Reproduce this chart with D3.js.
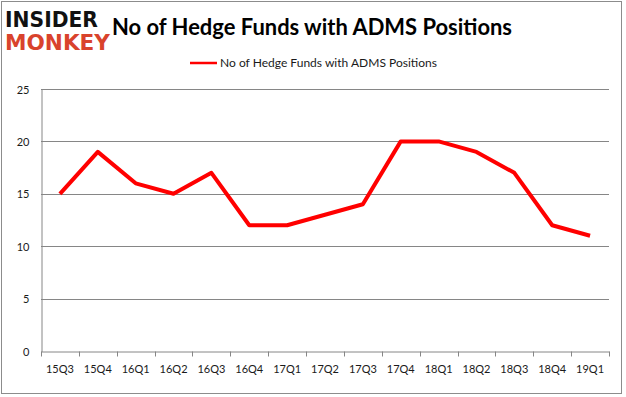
<!DOCTYPE html>
<meta charset="utf-8">
<style>
body { margin: 0; background: #fff; }
text { font-family: Lato, "Open Sans", sans-serif; }
.axis text { font-size: 11px; fill: #1a1a1a; }
</style>
<svg width="626" height="397"></svg>
<script src="https://d3js.org/d3.v7.min.js"></script>
<script>

var quarters = ["15Q3", "15Q4", "16Q1", "16Q2", "16Q3", "16Q4", "17Q1", "17Q2",
                "17Q3", "17Q4", "18Q1", "18Q2", "18Q3", "18Q4", "19Q1"];
var funds = [15, 19, 16, 15, 17, 12, 12, 13, 14, 20, 20, 19, 17, 12, 11];
var yTicks = [0, 5, 10, 15, 20, 25];
var seriesName = "No of Hedge Funds with ADMS Positions";

var svg = d3.select("svg");

// outer frame
svg.append("rect")
    .attr("x", 1.5).attr("y", 1.5)
    .attr("width", 620).attr("height", 392)
    .attr("fill", "#fff").attr("stroke", "#8c8c8c");

// plot area (note: "top" is taken by window.top)
var plotLeft = 41, plotRight = 609, plotTop = 89, plotBottom = 351;

var x = d3.scaleBand().domain(quarters).range([plotLeft, plotRight]);
var y = d3.scaleLinear().domain([0, 25]).range([plotBottom, plotTop]);

// gridlines
svg.append("g").selectAll("line")
    .data(yTicks.filter(function(d) { return d > 0; }))
  .enter().append("line")
    .attr("x1", plotLeft).attr("x2", plotRight)
    .attr("y1", function(d) { return Math.round(y(d)) + 0.5; })
    .attr("y2", function(d) { return Math.round(y(d)) + 0.5; })
    .attr("stroke", "#868686");

// y axis, labels only next to the line
var ya = svg.append("g").attr("class", "axis")
    .attr("transform", "translate(" + (plotLeft + 0.5) + ",0.5)")
    .call(d3.axisLeft(y).tickValues(yTicks).tickSize(0).tickSizeOuter(0).tickPadding(12));
ya.select(".domain").attr("stroke", "#868686");

// x axis
var xa = svg.append("g").attr("class", "axis")
    .attr("transform", "translate(0," + (plotBottom + 0.5) + ")")
    .call(d3.axisBottom(x).tickSize(0).tickPadding(14));
xa.select(".domain").attr("stroke", "#868686");
xa.selectAll(".tick line").remove();
xa.append("g").selectAll("line")
    .data(d3.range(quarters.length + 1))
  .enter().append("line")
    .attr("x1", function(i) { return Math.round(plotLeft + i * x.step()) + 0.5; })
    .attr("x2", function(i) { return Math.round(plotLeft + i * x.step()) + 0.5; })
    .attr("y1", 0).attr("y2", 5)
    .attr("stroke", "#868686");

// series line
var line = d3.line()
    .x(function(d, i) { return x(quarters[i]) + x.bandwidth() / 2; })
    .y(function(d) { return y(d); });

svg.append("path")
    .datum(funds)
    .attr("d", line)
    .attr("fill", "none")
    .attr("stroke", "#ff0000")
    .attr("stroke-width", 4)
    .attr("stroke-linejoin", "round");

// title
svg.append("text")
    .attr("x", 112).attr("y", 35)
    .attr("textLength", 400)
    .attr("lengthAdjust", "spacingAndGlyphs")
    .style("font-size", "22px").style("font-weight", "bold")
    .text(seriesName);

// legend
svg.append("line")
    .attr("x1", 190).attr("x2", 217).attr("y1", 63).attr("y2", 63)
    .attr("stroke", "#ff0000").attr("stroke-width", 2.5);
svg.append("text")
    .attr("x", 220).attr("y", 67)
    .attr("textLength", 217)
    .attr("lengthAdjust", "spacingAndGlyphs")
    .style("font-size", "11.5px").style("fill", "#1a1a1a")
    .text(seriesName);

// logo
svg.append("text")
    .attr("x", 5).attr("y", 27)
    .attr("textLength", 93)
    .attr("lengthAdjust", "spacingAndGlyphs")
    .style("font-family", "'DejaVu Sans', sans-serif")
    .style("font-size", "21px").style("font-weight", "900")
    .style("fill", "#111")
    .text("INSIDER");
svg.append("text")
    .attr("x", 5).attr("y", 50)
    .attr("textLength", 105)
    .attr("lengthAdjust", "spacingAndGlyphs")
    .style("font-family", "'DejaVu Sans', sans-serif")
    .style("font-size", "21px").style("font-weight", "900")
    .style("fill", "#d9432c")
    .text("MONKEY");

</script>
